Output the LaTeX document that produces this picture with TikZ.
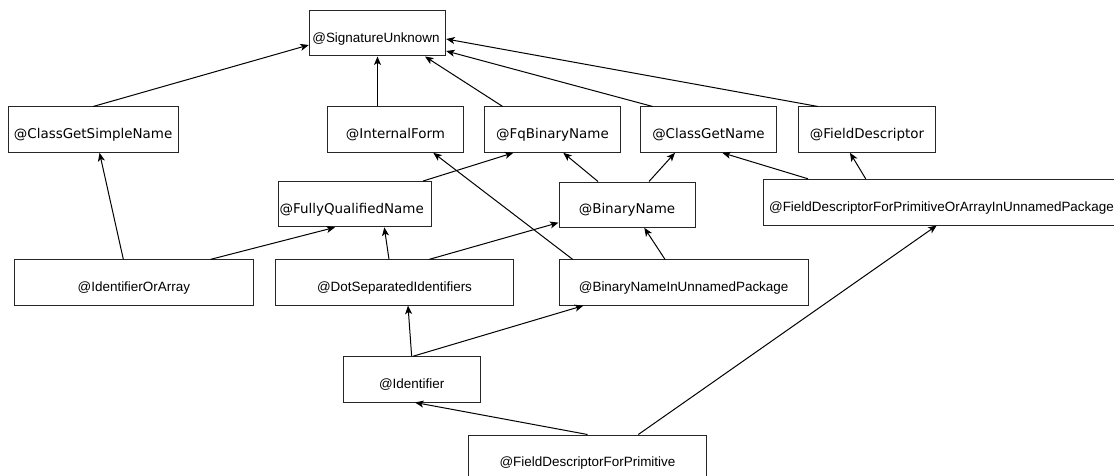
\documentclass[tikz,border=0pt]{standalone}
\usepackage{fontspec}
\setmainfont{DejaVu Sans}
\newfontfamily\arialf{Liberation Sans}
\usetikzlibrary{arrows.meta}
\tikzset{
  box/.style={draw=black!85, line width=1pt, inner sep=0pt, minimum height=45.3pt,
    text height=17.8pt, text depth=0pt, font=\fontsize{13.45pt}{16pt}\selectfont},
  abox/.style={box, font=\arialf\fontsize{13.45pt}{16pt}\selectfont},
  link/.style={draw=black, line width=1pt, -{Stealth[length=8.5pt,width=7pt,inset=2.2pt]}},
}
\begin{document}
\begin{tikzpicture}[x=1pt,y=-1pt]
\useasboundingbox (0,0) rectangle (1114,476);
% row 1
\node[abox, minimum width=136.4pt] (SU) at (377.5,33.35) {@SignatureUnknown\hspace*{3pt}};
% row 2
\node[box, minimum width=170.3pt] (CGSN) at (93.15,129.65) {@ClassGetSimpleName};
\node[box, minimum width=135.6pt] (IF) at (395.5,129.65) {@InternalForm};
\node[box, minimum width=136.4pt] (FqBN) at (552.5,129.65) {@FqBinaryName};
\node[box, minimum width=136.4pt] (CGN) at (708.5,129.65) {@ClassGetName};
\node[box, minimum width=136.6pt] (FD) at (867,129.65) {@FieldDescriptor};
% row 3
\node[box, minimum width=153pt] (FQN) at (355.2,204.2) {@FullyQualifiedName\hspace*{7pt}};
\node[box, minimum width=136pt] (BN) at (627,204.65) {@BinaryName};
\node[abox, minimum width=357pt, minimum height=45.7pt] (FDPA) at (941.5,202.15) {@FieldDescriptorForPrimitiveOrArrayInUnnamedPackage};
% row 4
\node[abox, minimum width=238.3pt] (IOA) at (133.85,282.5) {@IdentifierOrArray};
\node[abox, minimum width=238.4pt] (DSI) at (394.5,282.5) {@DotSeparatedIdentifiers};
\node[abox, minimum width=249.3pt] (BNIUP) at (683.65,282.5) {@BinaryNameInUnnamedPackage};
% row 5
\node[abox, minimum width=136.7pt] (Id) at (411.65,379.35) {@Identifier};
% row 6
\node[abox, minimum width=238.4pt] (FDFP) at (587.5,457.65) {@FieldDescriptorForPrimitive};
% connectors
\draw[link] (CGSN.north) -- ([yshift=-11.65pt]SU.west);
\draw[link] (SU.south |- IF.north) -- (SU.south);
\draw[link] ([xshift=-49.8pt]FqBN.north) -- ([xshift=47.5pt]SU.south);
\draw[link] ([xshift=-55.8pt]CGN.north) -- ([yshift=-17.65pt]SU.east);
\draw[link] ([xshift=-49pt]FD.north) -- ([yshift=-5.65pt]SU.east);
\draw[link] ([xshift=-10.5pt]IOA.north) -- ([xshift=6.4pt]CGSN.south);
\draw[link] ([xshift=76.8pt]IOA.north) -- ([xshift=-20.2pt]FQN.south);
\draw[link] ([xshift=-5.5pt]DSI.north) -- ([xshift=29.1pt]FQN.south);
\draw[link] ([xshift=67.8pt]FQN.north) -- ([xshift=-39.2pt]FqBN.south);
\draw[link] ([xshift=-29pt]BN.north) -- ([xshift=10.8pt]FqBN.south);
\draw[link] ([xshift=22pt]BN.north) -- ([xshift=-33.5pt]CGN.south);
\draw[link] ([xshift=34.8pt]DSI.north) -- ([yshift=-18pt]BN.west);
\draw[link] ([xshift=-111pt]BNIUP.north) -- ([xshift=37.8pt]IF.south);
\draw[link] ([xshift=-18.65pt]BNIUP.north) -- ([xshift=17.3pt]BN.south);
\draw[link] ([xshift=-133.5pt]FDPA.north) -- ([xshift=13.8pt]CGN.south);
\draw[link] ([xshift=-75.8pt]FDPA.north) -- ([xshift=-17pt]FD.south);
\draw[link] (Id.north) -- ([xshift=13.5pt]DSI.south);
\draw[link] ([xshift=1.5pt]Id.north) -- ([xshift=-100.3pt]BNIUP.south);
\draw[link] (FDFP.north) -- ([xshift=3.4pt]Id.south);
\draw[link] ([xshift=50.8pt]FDFP.north) -- ([xshift=-4.8pt]FDPA.south);
\end{tikzpicture}
\end{document}
